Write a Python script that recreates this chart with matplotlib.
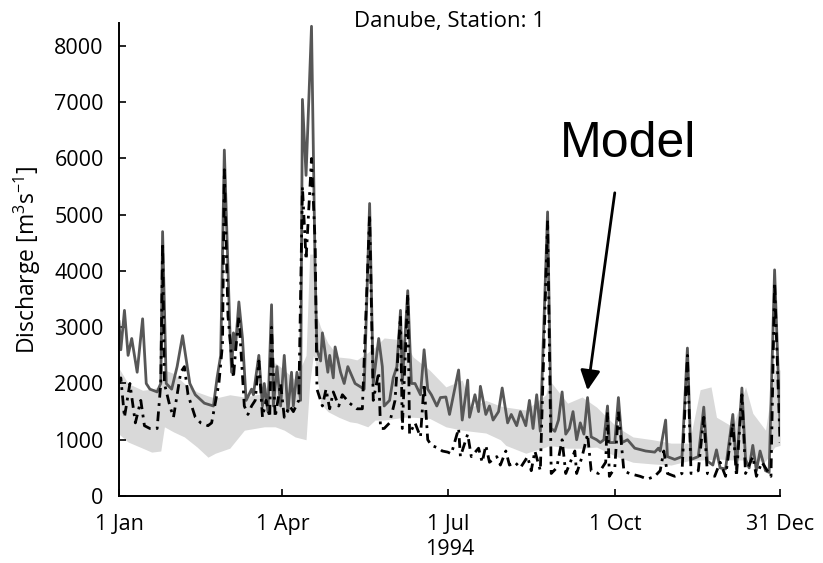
import numpy as np
import matplotlib
matplotlib.use('Agg')
import matplotlib.pyplot as plt

# day of year (0 = 1 Jan 1994) and discharge [m3/s]
model_day = [0, 1, 3, 5, 7, 10, 13, 15, 17, 21, 23, 24, 26, 29, 32, 35, 39, 42, 47, 52,
             54, 56, 58, 61, 62, 63, 64, 66, 68, 70, 73, 74, 77, 79, 80, 82, 84, 85, 87, 89,
             91, 93, 95, 96, 98, 100, 101, 103, 106, 108, 109, 111, 112, 115, 116, 118, 119, 122, 124, 126,
             130, 135, 138, 140, 143, 145, 146, 149, 151, 153, 155, 156, 159, 161, 163, 166, 168, 170, 172, 175,
             177, 180, 182, 187, 189, 192, 193, 196, 198, 199, 202, 204, 206, 209, 211, 214, 216, 219, 221, 224,
             226, 228, 230, 232, 236, 238, 240, 242, 244, 246, 248, 250, 252, 254, 256, 258, 260, 263, 265, 267,
             269, 270, 273, 275, 277, 280, 284, 290, 295, 297, 298, 301, 302, 306, 310, 313, 315, 319, 322, 324,
             327, 329, 331, 334, 338, 340, 343, 345, 347, 349, 351, 353, 356, 358, 361, 364]
model_q = [3100, 2600, 3300, 2500, 2800, 2200, 3150, 2000, 1900, 1850, 2000, 4700, 2000, 1900, 2300, 2850, 2000, 1800, 1650, 1600,
           2100, 2500, 6150, 3000, 2200, 2900, 2600, 3450, 2800, 1700, 1900, 1800, 2500, 1600, 2000, 1500, 3400, 1600, 2300, 1600,
           2500, 1500, 2200, 1600, 2200, 1700, 7050, 5700, 8350, 4000, 2600, 2400, 2900, 2200, 2500, 2100, 2650, 2200, 2000, 2300,
           2000, 1900, 5200, 2000, 2800, 2300, 1600, 1700, 2100, 2300, 3300, 2000, 3650, 2000, 2000, 1800, 2600, 1900, 1800, 1600,
           1750, 1760, 1450, 2240, 1350, 2060, 1400, 1800, 1500, 1950, 1450, 1600, 1350, 1500, 1920, 1300, 1450, 1250, 1500, 1250,
           1700, 1200, 1800, 1150, 5050, 1200, 1150, 1350, 1850, 1100, 1200, 1500, 1000, 1300, 1100, 1750, 1050, 1000, 950, 1000,
           1600, 950, 950, 1750, 950, 1000, 850, 800, 780, 850, 800, 1350, 700, 650, 700, 2630, 650, 700, 1580, 620,
           550, 820, 500, 480, 1450, 480, 1920, 650, 500, 900, 450, 800, 450, 420, 4020, 1250]

obs_day = [0, 1, 3, 6, 9, 12, 14, 17, 21, 23, 24, 25, 28, 30, 34, 36, 38, 42, 45, 49,
           51, 55, 57, 58, 60, 63, 64, 66, 69, 71, 73, 75, 77, 79, 81, 83, 84, 86, 89, 91,
           94, 96, 99, 101, 103, 106, 108, 109, 112, 114, 116, 118, 121, 123, 127, 131, 134, 138, 140, 143,
           144, 146, 149, 152, 155, 156, 159, 160, 163, 166, 168, 170, 172, 176, 178, 181, 183, 187, 188, 192,
           194, 198, 200, 202, 204, 208, 210, 213, 215, 218, 221, 225, 227, 229, 232, 236, 238, 241, 244, 246,
           251, 252, 255, 258, 260, 264, 268, 269, 270, 273, 275, 278, 281, 287, 291, 295, 298, 300, 302, 306,
           310, 313, 315, 319, 322, 324, 328, 331, 334, 338, 340, 343, 345, 349, 351, 354, 359, 361, 364]
obs_q = [2000, 2100, 1400, 2000, 1300, 1700, 1250, 1200, 1200, 2000, 4500, 2000, 1600, 1400, 2200, 2300, 1800, 1400, 1300, 1250,
         1300, 2000, 2700, 5800, 3200, 2100, 2500, 3200, 1600, 1450, 1600, 1700, 2400, 1400, 1700, 1400, 3000, 1400, 2000, 1400,
         1600, 1500, 1700, 5500, 4200, 6000, 4500, 1900, 1600, 1900, 1550, 1850, 1600, 1800, 1650, 1550, 1550, 5000, 1700, 2200,
         1200, 1200, 1300, 1700, 3200, 1200, 3600, 1100, 1300, 1050, 2000, 1000, 900, 850, 800, 780, 750, 1200, 700, 1100,
         700, 850, 600, 900, 600, 700, 550, 800, 550, 600, 500, 700, 450, 800, 450, 4900, 400, 500, 1000, 400,
         800, 400, 700, 1100, 450, 400, 600, 1500, 350, 500, 1500, 450, 400, 350, 300, 350, 450, 800, 400, 350,
         400, 2500, 400, 450, 1400, 400, 350, 600, 350, 1300, 350, 1800, 400, 700, 350, 600, 350, 3800, 950]

band_day = [0, 5, 13, 18, 23, 25, 30, 36, 43, 49, 53, 61, 69, 80, 86, 91, 97, 103, 105, 107,
            108, 111, 115, 121, 127, 131, 137, 141, 146, 157, 162, 171, 180, 189, 194, 202, 210, 213, 224, 235,
            237, 247, 255, 263, 274, 283, 294, 304, 314, 320, 326, 329, 338, 345, 349, 356, 361, 364]
band_hi = [2270, 2000, 1880, 1900, 1950, 2240, 2180, 2000, 1850, 1780, 1740, 1800, 1760, 1830, 2370, 2240, 2060, 2500, 4300, 4300,
           3300, 3000, 2720, 2470, 2450, 2420, 2550, 2650, 2810, 2770, 2470, 2240, 1940, 2060, 1580, 1700, 1600, 1580, 1530, 1800,
           2060, 1650, 1760, 1580, 1230, 1050, 1000, 940, 940, 1890, 1940, 1400, 1230, 1940, 1470, 1170, 2240, 2240]
band_lo = [1100, 960, 850, 780, 800, 1230, 1140, 1050, 870, 690, 760, 850, 1170, 1230, 1230, 1170, 1050, 1000, 2000, 2500,
           2400, 1650, 1500, 1400, 1320, 1300, 1230, 1350, 1350, 1400, 1400, 1380, 1230, 1170, 1150, 1120, 1000, 900, 760, 870,
           900, 850, 850, 870, 700, 600, 570, 550, 630, 640, 650, 660, 640, 640, 630, 620, 870, 900]

tick_days = [0, 90, 181, 273, 364]
tick_labels = ['1 Jan', '1 Apr', '1 Jul', '1 Oct', '31 Dec']

plt.rcParams['font.family'] = ['Open Sans', 'DejaVu Sans']
plt.rcParams['mathtext.fontset'] = 'custom'
plt.rcParams['mathtext.rm'] = 'Open Sans'
plt.rcParams['mathtext.it'] = 'Open Sans:italic'

fig = plt.figure(figsize=(8.23, 5.63), dpi=100)
ax = fig.add_axes([0.1446, 0.119, 0.8032, 0.8393])

ax.fill_between(band_day, band_lo, band_hi, color='#d9d9d9', linewidth=0, zorder=1)
ax.plot(model_day, model_q, color='#575757', linewidth=2.0, zorder=2)
ax.plot(obs_day, obs_q, color='black', linewidth=2.0, linestyle=(0, (3.5, 2, 1, 2)), zorder=3)

ax.set_xlim(0, 364)
ax.set_ylim(0, 8400)
ax.set_xticks(tick_days)
ax.set_xticklabels(tick_labels)
ax.set_yticks(np.arange(0, 8001, 1000))
ax.tick_params(direction='in', length=5, width=1.2, labelsize=15.5, pad=11)
ax.tick_params(axis='x', pad=13)
for s in ['top', 'right']:
    ax.spines[s].set_visible(False)
for s in ['left', 'bottom']:
    ax.spines[s].set_linewidth(1.4)

ax.set_xlabel('1994', fontsize=15.5, labelpad=3)
ax.set_ylabel('Discharge [m$^{3}$s$^{-1}$]', fontsize=16.5, labelpad=8)

fig.text(0.546, 1 - 27 / 563, 'Danube, Station: 1', fontsize=16, ha='center', va='baseline')

ax.text(243, 6030, 'Model', fontsize=36, family='Liberation Sans', va='baseline')
ax.annotate('', xy=(258, 1880), xytext=(273, 5390),
            arrowprops=dict(arrowstyle='-|>', lw=2, color='black', mutation_scale=30,
                            shrinkA=0, shrinkB=0))

plt.savefig('out.png', dpi=100)
